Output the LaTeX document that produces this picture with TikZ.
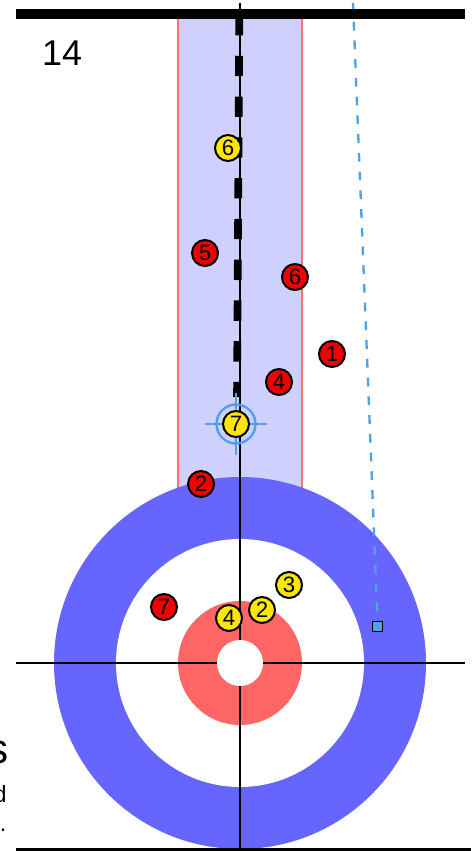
\documentclass[tikz,border=0pt]{standalone}
\usepackage{fontspec}
\setmainfont{Liberation Sans}
\usepackage{tikz}
\definecolor{laneBlue}{RGB}{208, 208, 255}
\definecolor{laneEdge}{RGB}{255, 112, 112}
\definecolor{ringBlue}{RGB}{102, 102, 255}
\definecolor{ringRed}{RGB}{255, 102, 102}
\definecolor{stoneRed}{RGB}{240, 0, 0}
\definecolor{stoneYellow}{RGB}{255, 230, 0}
\definecolor{aimBlue}{RGB}{80, 162, 228}

\tikzset{
  stone/.style={circle, draw=black, line width=1.7pt, minimum size=0.78cm,
    inner sep=0pt, font=\fontsize{19}{19}\selectfont},
  redstone/.style={stone, fill=stoneRed},
  yellowstone/.style={stone, fill=stoneYellow},
  aim/.style={aimBlue, line width=2.1pt}
}

\begin{document}
\begin{tikzpicture}[x=0.03cm, y=-0.03cm]
        \useasboundingbox (0,0) rectangle (471,851);
        % lane of the sheet
        \fill[laneBlue] (178,14) rectangle (302,600);
        \draw[laneEdge, line width=1.9pt] (178,14) -- (178,560);
        \draw[laneEdge, line width=1.9pt] (302,14) -- (302,560);
        % house
        \fill[ringBlue] (240,663) circle (186);
        \fill[white] (240,663) circle (124);
        \fill[ringRed] (240,663) circle (62);
        % lines
        \draw[line width=1.7pt] (240,3) -- (240,851);
        \draw[line width=2.5pt] (16,663) -- (465,663);
        \draw[line width=2.5pt] (16,849.5) -- (471,849.5);
        \fill[white] (240,663) circle (23);
        % path of the shot
        \coordinate (aimTop) at (353,3);
        \node[draw=black, fill=aimBlue, line width=1.2pt, minimum size=0.3cm,
          inner sep=0pt] (target) at (377.5,626.5) {};
        \draw[aim, line width=2pt, dash pattern=on 7.5pt off 8.5pt] (aimTop) -- (target.north);
        \draw[line width=9pt] (16,14) -- (465,14);
        % sweeping
        \coordinate (sweepA) at (239.3,15);
        \coordinate (sweepB) at (237,397);
        \draw[line width=6.5pt, dash pattern=on 17.4pt off 17.4pt] (sweepA) -- (sweepB);
        % crosshair on the last stone
        \coordinate (c7) at (236,424);
        \draw[aim] (c7) circle (19.5);
        \draw[aim] (c7) ++(-31,0) -- ++(62,0);
        \draw[aim] (c7) ++(0,-31) -- ++(0,62);
        % stones
        \node[yellowstone] (y6) at (228,148) {6};
        \node[redstone] (r5) at (205,253) {5};
        \node[redstone] (r6) at (295,277) {6};
        \node[redstone] (r1) at (332,354) {1};
        \node[redstone] (r4) at (279,382) {4};
        \node[yellowstone] (y7) at (c7) {7};
        \node[redstone] (r2) at (201,484) {2};
        \node[yellowstone] (y3) at (289,585) {3};
        \node[redstone] (r7) at (164,607) {7};
        \node[yellowstone] (y2) at (262,610) {2};
        \node[yellowstone] (y4) at (229,618) {4};
        % texts
        \node[anchor=base west, inner sep=0pt, font=\fontsize{30.6}{30.6}\selectfont] (endNo) at (42,66) {14};
        \node[anchor=base east, inner sep=0pt, font=\fontsize{36}{36}\selectfont] (head) at (8.5,763) {s};
        \node[anchor=base east, inner sep=0pt, font=\fontsize{20}{20}\selectfont] (lineA) at (7,802) {d};
        \node[anchor=base east, inner sep=0pt, font=\fontsize{20}{20}\selectfont] (lineB) at (6.5,831) {.};
      \end{tikzpicture}
\end{document}
